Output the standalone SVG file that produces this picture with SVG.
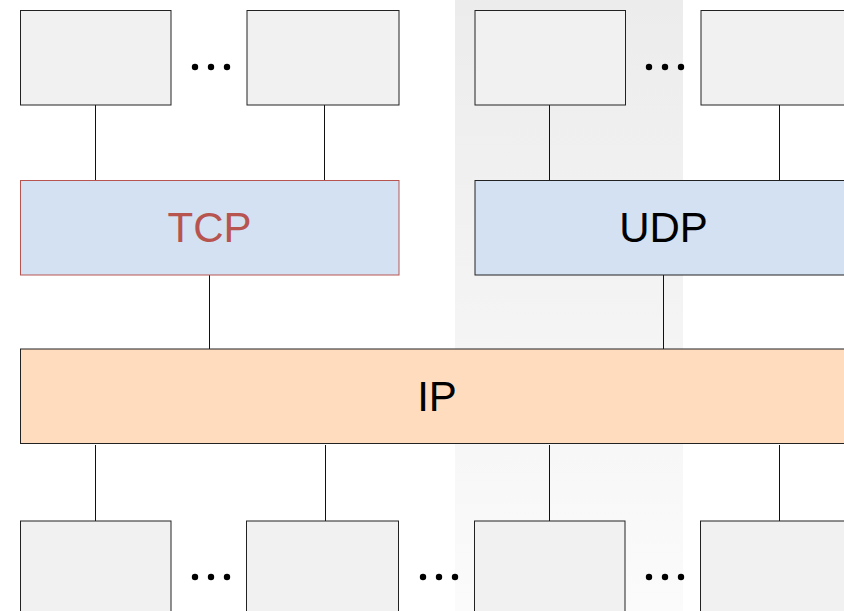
<svg xmlns="http://www.w3.org/2000/svg" width="844" height="611" viewBox="0 0 844 611">
<defs>
<linearGradient id="band" x1="0" y1="0" x2="0" y2="1">
<stop offset="0" stop-color="#ececec"/>
<stop offset="1" stop-color="#fbfbfb"/>
</linearGradient>
</defs>
<style>
.app{fill:#f1f1f1;stroke:#222;stroke-width:1}
.conn line{stroke:#111;stroke-width:1}
.dot{fill:#000}
.lbl{font-family:"Liberation Sans",Arial,sans-serif;font-size:42px;text-anchor:middle}
</style>
<rect x="0" y="0" width="844" height="611" fill="#fff"/>
<rect id="band-bg" x="455" y="0" width="228" height="611" fill="url(#band)"/>
<g id="connectors" class="conn">
<line x1="95.5" y1="105" x2="95.5" y2="181"/>
<line x1="324.5" y1="105" x2="324.5" y2="181"/>
<line x1="549.5" y1="105" x2="549.5" y2="181"/>
<line x1="779.5" y1="105" x2="779.5" y2="181"/>
<line x1="209.5" y1="275" x2="209.5" y2="349"/>
<line x1="663.5" y1="275" x2="663.5" y2="349"/>
<line x1="95.5" y1="445" x2="95.5" y2="521"/>
<line x1="325.5" y1="445" x2="325.5" y2="521"/>
<line x1="549.5" y1="445" x2="549.5" y2="521"/>
<line x1="779.5" y1="445" x2="779.5" y2="521"/>
</g>
<g id="app-top-1"><rect class="app" x="20.5" y="10.5" width="150.5" height="94.5"/></g>
<g id="app-top-2"><rect class="app" x="247" y="10.5" width="152" height="94.5"/></g>
<g id="app-top-3"><rect class="app" x="475" y="10.5" width="150.5" height="94.5"/></g>
<g id="app-top-4"><rect class="app" x="701" y="10.5" width="152" height="94.5"/></g>
<g id="dots-top-1"><circle class="dot" cx="195" cy="67" r="3.2"/><circle class="dot" cx="211" cy="67" r="3.2"/><circle class="dot" cx="227" cy="67" r="3.2"/></g>
<g id="dots-top-2"><circle class="dot" cx="649" cy="67" r="3.2"/><circle class="dot" cx="665" cy="67" r="3.2"/><circle class="dot" cx="681" cy="67" r="3.2"/></g>
<g id="tcp"><rect x="20.5" y="180.5" width="378.5" height="94.5" fill="#d3e1f3" stroke="#b85450" stroke-width="1"/><text class="lbl" x="209.5" y="242" fill="#b85450">TCP</text></g>
<g id="udp"><rect x="475" y="180.5" width="378" height="94.5" fill="#d3e1f3" stroke="#222" stroke-width="1"/><text class="lbl" x="663.5" y="242" fill="#000">UDP</text></g>
<g id="ip"><rect x="20.5" y="349" width="833" height="94.5" fill="#ffdcbe" stroke="#222" stroke-width="1"/><text class="lbl" x="437" y="410.5" fill="#000">IP</text></g>
<g id="app-bot-1"><rect class="app" x="20.5" y="521" width="150.5" height="100"/></g>
<g id="app-bot-2"><rect class="app" x="246.5" y="521" width="152" height="100"/></g>
<g id="app-bot-3"><rect class="app" x="474.5" y="521" width="150.5" height="100"/></g>
<g id="app-bot-4"><rect class="app" x="700.5" y="521" width="152" height="100"/></g>
<g id="dots-bot-1"><circle class="dot" cx="195" cy="577" r="3.2"/><circle class="dot" cx="211" cy="577" r="3.2"/><circle class="dot" cx="227" cy="577" r="3.2"/></g>
<g id="dots-bot-2"><circle class="dot" cx="423" cy="577" r="3.2"/><circle class="dot" cx="439" cy="577" r="3.2"/><circle class="dot" cx="455" cy="577" r="3.2"/></g>
<g id="dots-bot-3"><circle class="dot" cx="649" cy="577" r="3.2"/><circle class="dot" cx="665" cy="577" r="3.2"/><circle class="dot" cx="681" cy="577" r="3.2"/></g>
</svg>
